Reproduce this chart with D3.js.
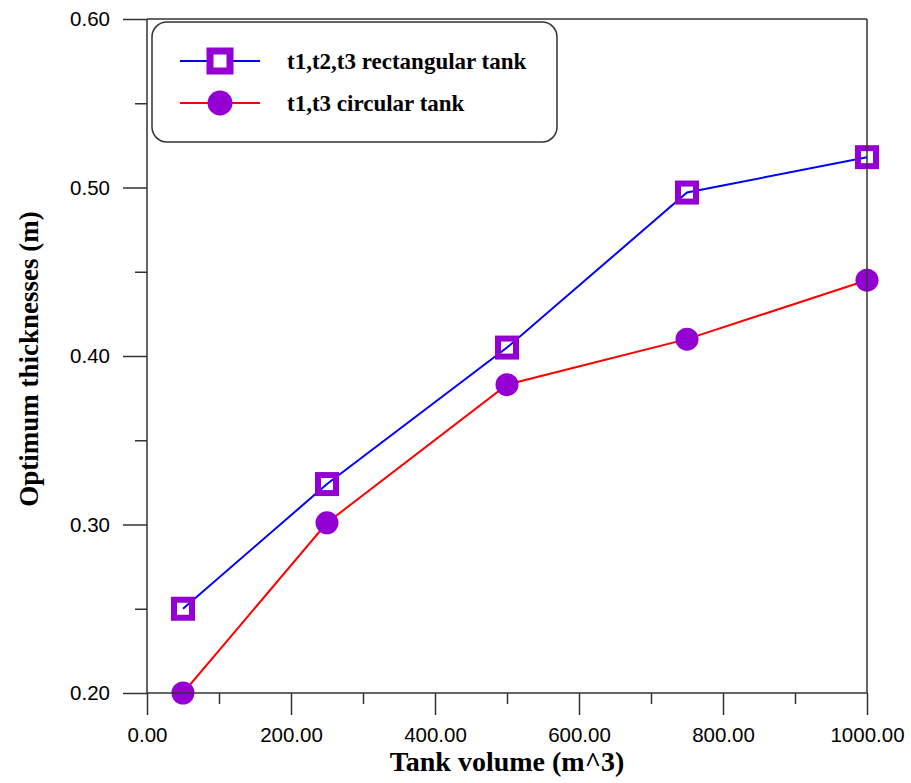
<!DOCTYPE html>
<html>
<head>
<meta charset="utf-8">
<script src="https://cdn.jsdelivr.net/npm/d3@7"></script>
<style>
  html, body { margin: 0; padding: 0; background: #fff; }
  svg { display: block; }
</style>
</head>
<body>
<svg id="chart" width="911" height="783"></svg>
<script>
// Tank volumes (m^3) and optimum thicknesses (m)
const volumes = [50, 250, 500, 750, 1000];
const rectangularThickness = [0.250, 0.324, 0.405, 0.497, 0.518];
const circularThickness = [0.200, 0.301, 0.383, 0.410, 0.445];

const xMajorTicks = [0, 200, 400, 600, 800, 1000];
const xMinorTicks = [100, 300, 500, 700, 900];
const yMajorTicks = [0.20, 0.30, 0.40, 0.50, 0.60];
const yMinorTicks = [0.25, 0.35, 0.45, 0.55];

const seriesNames = ["t1,t2,t3 rectangular tank", "t1,t3 circular tank"];
const xTitle = "Tank volume (m^3)";
const yTitle = "Optimum thicknesses (m)";

(function draw() {
  const svg = d3.select("#chart");
  const plotLeft = 147, plotRight = 867, plotTop = 19, plotBottom = 693;
  const axisColor = "#333";
  const markerColor = "#9400D3";

  const x = d3.scaleLinear().domain([0, 1000]).range([plotLeft, plotRight]);
  const y = d3.scaleLinear().domain([0.20, 0.60]).range([plotBottom, plotTop]);

  // Axes: long major ticks, short minor ticks, labels with two decimals
  function styleAxis(g) {
    g.select(".domain").remove();
    g.selectAll(".tick line").attr("stroke", axisColor).attr("stroke-width", 1.5);
    g.selectAll(".tick text")
      .attr("fill", "#000")
      .style("font-family", "'Liberation Sans', Arial, sans-serif")
      .style("font-size", "20.5px");
  }

  svg.append("g")
    .attr("transform", `translate(0,${plotBottom})`)
    .call(d3.axisBottom(x).tickValues(xMajorTicks).tickSize(22).tickPadding(12).tickFormat(d3.format(".2f")))
    .call(styleAxis);
  svg.append("g")
    .attr("transform", `translate(0,${plotBottom})`)
    .call(d3.axisBottom(x).tickValues(xMinorTicks).tickSize(11).tickFormat(""))
    .call(styleAxis);
  svg.append("g")
    .attr("transform", `translate(${plotLeft},0)`)
    .call(d3.axisLeft(y).tickValues(yMajorTicks).tickSize(24).tickPadding(13).tickFormat(d3.format(".2f")))
    .call(styleAxis);
  svg.append("g")
    .attr("transform", `translate(${plotLeft},0)`)
    .call(d3.axisLeft(y).tickValues(yMinorTicks).tickSize(12).tickFormat(""))
    .call(styleAxis);

  // Axis titles
  svg.append("text")
    .attr("x", (plotLeft + plotRight) / 2)
    .attr("y", 771)
    .attr("text-anchor", "middle")
    .style("font-family", "'Liberation Serif', 'Times New Roman', serif")
    .style("font-weight", "bold")
    .style("font-size", "28px")
    .text(xTitle);
  svg.append("text")
    .attr("transform", `translate(38,${(plotTop + plotBottom) / 2 + 3}) rotate(-90)`)
    .attr("text-anchor", "middle")
    .style("font-family", "'Liberation Serif', 'Times New Roman', serif")
    .style("font-weight", "bold")
    .style("font-size", "27px")
    .text(yTitle);

  // Series lines
  const rectData = volumes.map((v, i) => [v, rectangularThickness[i]]);
  const circData = volumes.map((v, i) => [v, circularThickness[i]]);
  const line = d3.line().x(d => x(d[0])).y(d => y(d[1]));

  svg.append("path").datum(rectData)
    .attr("d", line).attr("fill", "none").attr("stroke", "#0000FF").attr("stroke-width", 2);
  svg.append("path").datum(circData)
    .attr("d", line).attr("fill", "none").attr("stroke", "#FF0000").attr("stroke-width", 2);

  // Markers: hollow squares and filled circles
  const sqSide = 18, sqStroke = 6, circR = 11.5;
  svg.append("g").selectAll("rect").data(rectData).join("rect")
    .attr("x", d => x(d[0]) - sqSide / 2)
    .attr("y", d => y(d[1]) - sqSide / 2)
    .attr("width", sqSide).attr("height", sqSide)
    .attr("fill", "none").attr("stroke", markerColor).attr("stroke-width", sqStroke);
  svg.append("g").selectAll("circle").data(circData).join("circle")
    .attr("cx", d => x(d[0])).attr("cy", d => y(d[1])).attr("r", circR)
    .attr("fill", markerColor);

  // Plot frame on top of markers
  const frame = svg.append("g").attr("stroke", axisColor).attr("stroke-width", 1.5);
  frame.append("line").attr("x1", plotLeft).attr("x2", plotRight).attr("y1", plotTop).attr("y2", plotTop);
  frame.append("line").attr("x1", plotLeft).attr("x2", plotRight).attr("y1", plotBottom).attr("y2", plotBottom);
  frame.append("line").attr("x1", plotLeft).attr("x2", plotLeft).attr("y1", plotTop).attr("y2", plotBottom);
  frame.append("line").attr("x1", plotRight).attr("x2", plotRight).attr("y1", plotTop).attr("y2", plotBottom);

  // Legend
  const legend = svg.append("g");
  legend.append("rect")
    .attr("x", 152).attr("y", 22).attr("width", 405).attr("height", 120)
    .attr("rx", 15).attr("ry", 15)
    .attr("fill", "#fff").attr("stroke", axisColor).attr("stroke-width", 1.5);

  const legendRows = [
    { name: seriesNames[0], color: "#0000FF", marker: "square", cy: 61 },
    { name: seriesNames[1], color: "#FF0000", marker: "circle", cy: 103 }
  ];
  legendRows.forEach(r => {
    legend.append("line")
      .attr("x1", 180).attr("x2", 260).attr("y1", r.cy).attr("y2", r.cy)
      .attr("stroke", r.color).attr("stroke-width", 2);
    if (r.marker === "square") {
      legend.append("rect")
        .attr("x", 220 - sqSide / 2 - 1).attr("y", r.cy - sqSide / 2 - 1)
        .attr("width", sqSide + 2).attr("height", sqSide + 2)
        .attr("fill", "#fff").attr("stroke", markerColor).attr("stroke-width", sqStroke + 1);
    } else {
      legend.append("circle").attr("cx", 220).attr("cy", r.cy).attr("r", 12.5).attr("fill", markerColor);
    }
    legend.append("text")
      .attr("x", 287).attr("y", r.cy + 8)
      .style("font-family", "'Liberation Serif', 'Times New Roman', serif")
      .style("font-weight", "bold")
      .style("font-size", "23px")
      .text(r.name);
  });
})();
</script>
</body>
</html>
